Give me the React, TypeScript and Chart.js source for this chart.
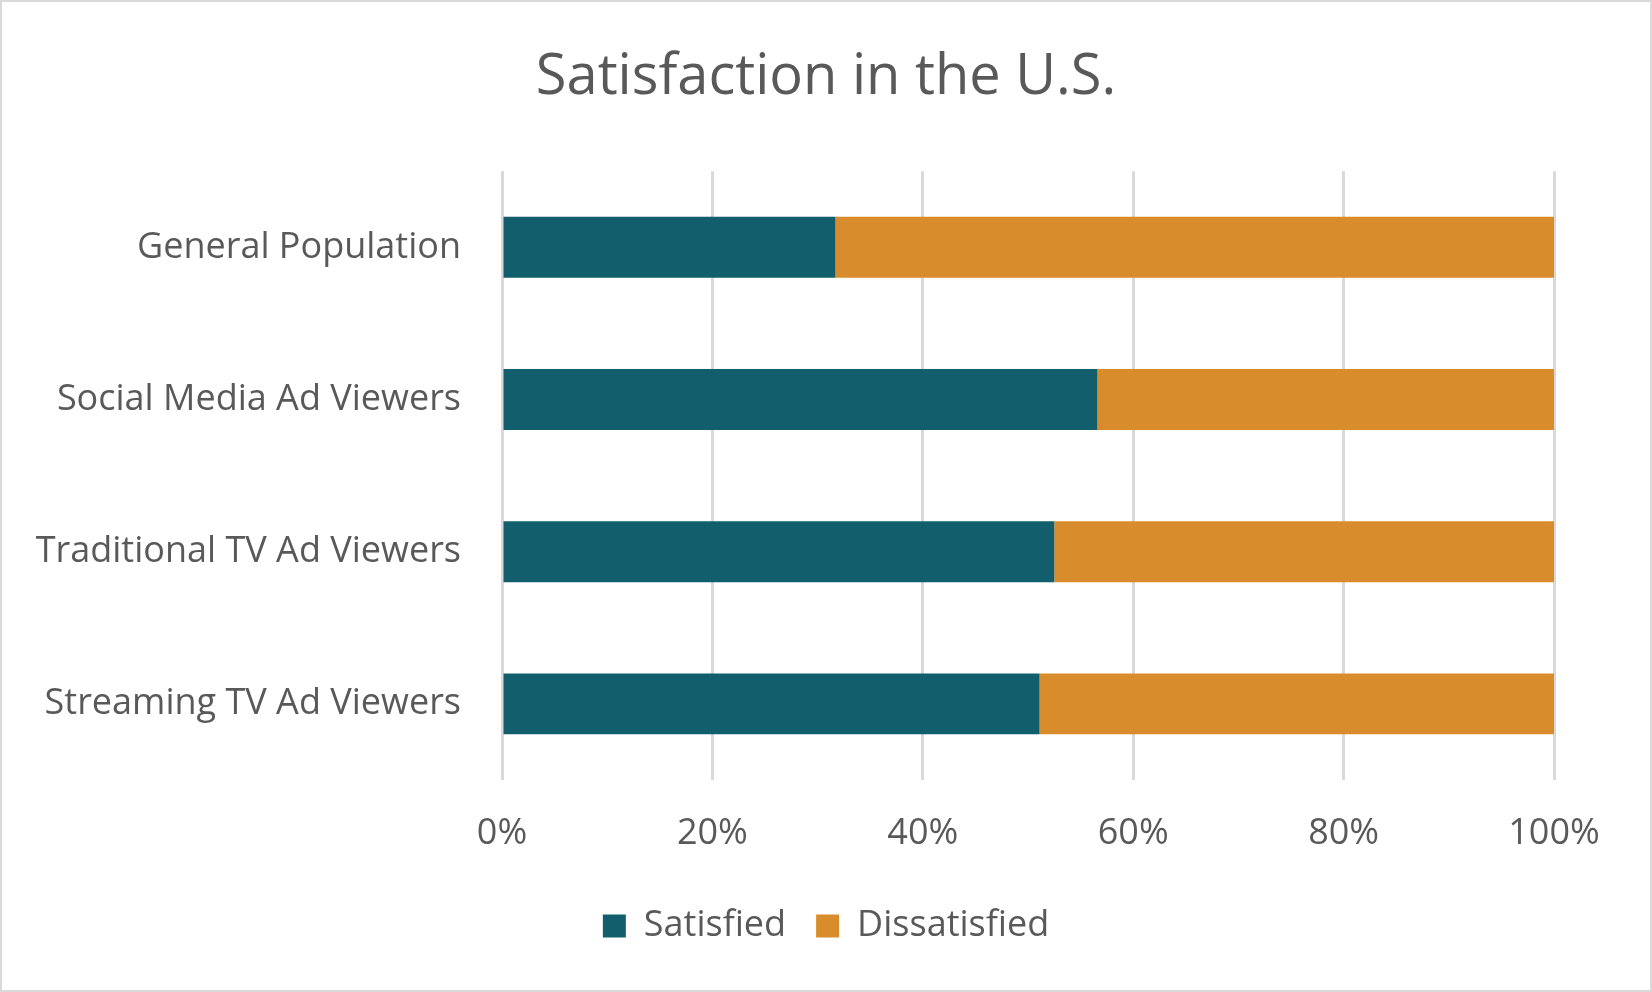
import React, { useEffect, useRef } from "react";
import { Chart, registerables } from "chart.js";

Chart.register(...registerables);

const categories = [
  "General Population",
  "Social Media Ad Viewers",
  "Traditional TV Ad Viewers",
  "Streaming TV Ad Viewers",
];
const satisfied = [31.7, 56.6, 52.5, 51.1];
const dissatisfied = [68.3, 43.4, 47.5, 48.9];
const xTicks = [0, 20, 40, 60, 80, 100];

const W = 1652;
const H = 992;
const FONT = "'Open Sans', 'Noto Sans', sans-serif";
const TEXT = "#595959";
const GRID = "#d9d9d9";
const TEAL = "#135E6C";
const ORANGE = "#D98C2B";
const BOTTOM_PAD = 38;
const AREA_BOTTOM = 780;

const frame = {
  id: "frame",
  beforeDraw(chart: any) {
    const ctx = chart.ctx;
    ctx.save();
    ctx.fillStyle = "#ffffff";
    ctx.fillRect(0, 0, W, H);
    ctx.restore();
  },
  afterDraw(chart: any) {
    const ctx = chart.ctx;
    ctx.save();
    ctx.strokeStyle = GRID;
    ctx.lineWidth = 2;
    ctx.strokeRect(1, 1, W - 2, H - 2);
    ctx.restore();
  },
};

export default function App() {
  const ref = useRef<HTMLCanvasElement | null>(null);
  useEffect(() => {
    if (!ref.current) return;
    const chart = new Chart(ref.current, {
      type: "bar",
      data: {
        labels: categories,
        datasets: [
          {
            label: "Satisfied",
            data: satisfied,
            backgroundColor: TEAL,
            borderWidth: 0,
            categoryPercentage: 0.8,
            barPercentage: 0.5,
          },
          {
            label: "Dissatisfied",
            data: dissatisfied,
            backgroundColor: ORANGE,
            borderWidth: 0,
            categoryPercentage: 0.8,
            barPercentage: 0.5,
          },
        ],
      },
      options: {
        indexAxis: "y",
        responsive: false,
        animation: false,
        layout: { padding: { left: 0, right: 0, top: 0, bottom: BOTTOM_PAD } },
        scales: {
          x: {
            stacked: true,
            min: 0,
            max: 100,
            afterBuildTicks(scale: any) {
              scale.ticks = xTicks.map((v) => ({ value: v }));
            },
            afterFit(scale: any) {
              const lh = scale.chart.legend ? scale.chart.legend.height : 0;
              scale.height = H - AREA_BOTTOM - lh - BOTTOM_PAD;
            },
            ticks: {
              callback: (v: any) => v + "%",
              color: TEXT,
              font: { family: FONT, size: 36 },
              padding: 32,
              maxRotation: 0,
            },
            grid: { color: GRID, lineWidth: 3, drawTicks: false },
            border: { display: false },
          },
          y: {
            stacked: true,
            afterFit(scale: any) {
              scale.width = 502;
            },
            ticks: {
              color: TEXT,
              font: { family: FONT, size: 36 },
              padding: 41,
            },
            grid: { display: false, drawTicks: false },
            border: { display: false },
          },
          yRight: {
            type: "category",
            position: "right",
            afterFit(scale: any) {
              scale.width = W - 1554;
            },
            ticks: { display: false },
            grid: { display: false, drawTicks: false },
            border: { display: false },
          },
        },
        plugins: {
          title: {
            display: true,
            text: "Satisfaction in the U.S.",
            color: TEXT,
            font: { family: FONT, size: 56, weight: "normal" },
            padding: { top: 44, bottom: 60 },
          },
          legend: {
            display: true,
            position: "bottom",
            labels: {
              color: TEXT,
              font: { family: FONT, size: 36 },
              boxWidth: 23,
              boxHeight: 23,
              padding: 30,
            },
          },
          tooltip: { enabled: false },
        },
      },
      plugins: [frame],
    } as any);
    return () => chart.destroy();
  }, []);
  return (
    <div style={{ position: "fixed", left: 0, top: 0, width: W, height: H, background: "#fff" }}>
      <canvas ref={ref} width={W} height={H} style={{ display: "block" }} />
    </div>
  );
}
